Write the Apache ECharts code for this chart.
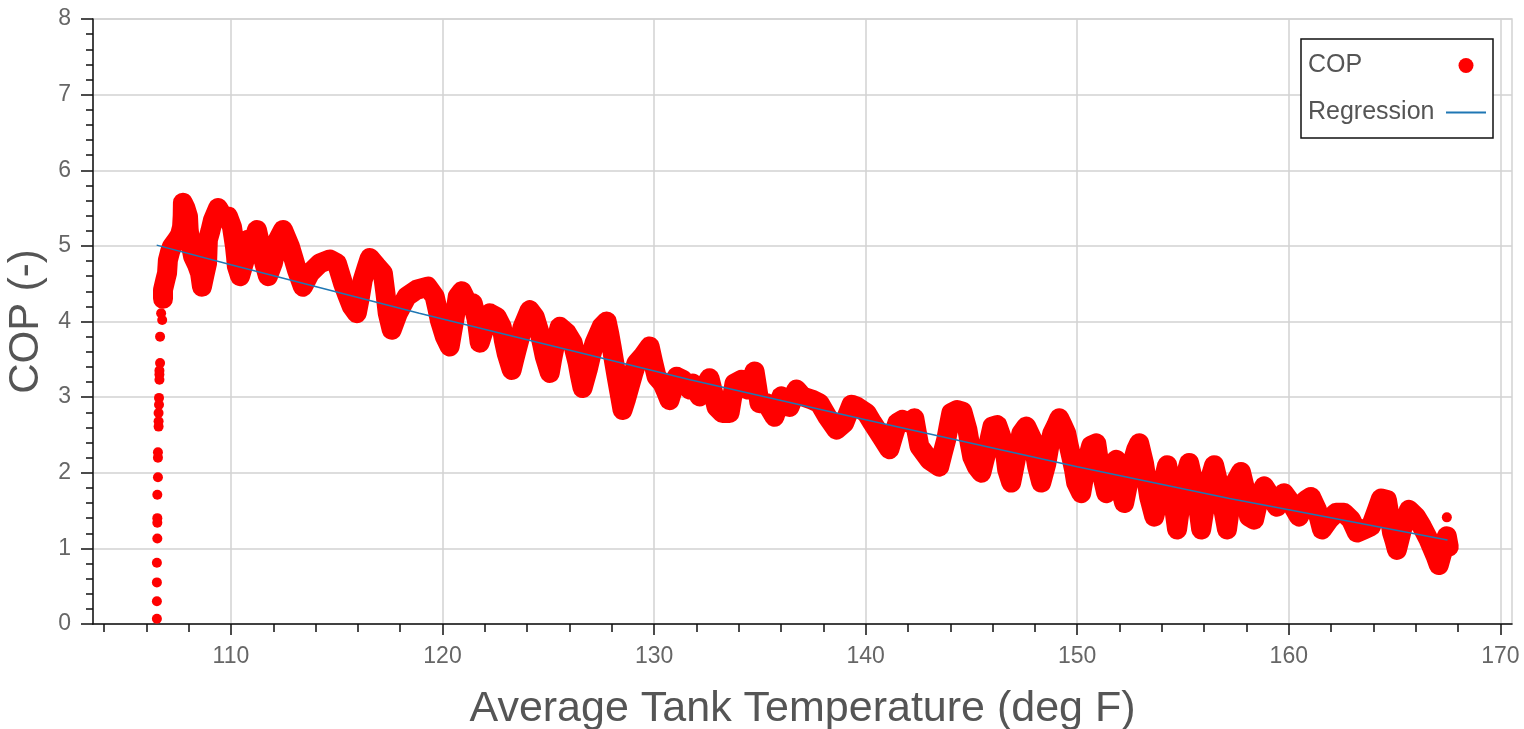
<!DOCTYPE html>
<html>
<head>
<meta charset="utf-8">
<script src="https://cdn.jsdelivr.net/npm/echarts@6.0.0/dist/echarts.min.js"></script>
<style>
html,body{margin:0;padding:0;background:#fff;}
#chart{width:1524px;height:729px;}
</style>
</head>
<body>
<div id="chart"></div>
<script>
// ---- data ----
const tempTicks = [110, 120, 130, 140, 150, 160, 170];
const tempMinorTicks = [104, 106, 108, 112, 114, 116, 118, 122, 124, 126, 128, 132, 134, 136, 138,
  142, 144, 146, 148, 152, 154, 156, 158, 162, 164, 166, 168];
const copTickLabels = ['0', '1', '2', '3', '4', '5', '6', '7', '8'];

// start-up ramp (isolated samples) and a lone late sample
const copRampPoints = [
  [106.50, 0.07], [106.50, 0.30], [106.50, 0.55], [106.50, 0.81], [106.52, 1.13], [106.52, 1.34],
  [106.52, 1.40], [106.52, 1.71], [106.55, 1.94], [106.55, 2.20], [106.55, 2.27], [106.58, 2.61],
  [106.58, 2.68], [106.58, 2.79], [106.60, 2.90], [106.60, 2.99], [106.62, 3.23], [106.62, 3.30],
  [106.62, 3.35], [106.65, 3.45], [106.65, 3.80], [106.70, 4.11], [106.75, 4.02], [167.47, 1.41]
];

// main cloud of COP samples (traced along the dense band)
const copBandPoints = [
  [106.79,4.30],[106.79,4.42],[106.90,4.55],[106.98,4.64],[107.02,4.81],[107.12,4.92],[107.21,4.99],[107.45,5.08],
  [107.60,5.15],[107.69,5.25],[107.72,5.40],[107.73,5.57],[107.85,5.50],[107.97,5.39],[108.00,5.22],[108.06,5.08],
  [108.21,4.86],[108.40,4.75],[108.54,4.64],[108.63,4.46],[108.75,4.62],[108.87,4.77],[108.89,4.92],[108.91,5.08],
  [109.03,5.20],[109.15,5.34],[109.39,5.50],[109.62,5.39],[109.86,5.39],[110.05,5.25],[110.12,5.12],[110.19,4.99],
  [110.24,4.86],[110.28,4.73],[110.43,4.60],[110.66,4.82],[110.73,4.95],[110.80,5.08],[110.99,4.99],[111.23,5.21],
  [111.35,5.06],[111.46,4.91],[111.60,4.75],[111.75,4.60],[111.98,4.77],[112.10,4.92],[112.22,5.08],[112.46,5.21],
  [112.79,4.99],[112.95,4.84],[113.12,4.68],[113.26,4.57],[113.40,4.46],[113.73,4.64],[114.20,4.77],[114.68,4.82],
  [115.01,4.77],[115.15,4.64],[115.29,4.51],[115.50,4.35],[115.71,4.20],[115.95,4.11],[116.10,4.33],[116.23,4.55],
  [116.40,4.70],[116.56,4.84],[116.89,4.73],[117.18,4.64],[117.30,4.38],[117.41,4.11],[117.60,3.89],[117.89,4.11],
  [118.31,4.33],[118.78,4.42],[119.30,4.46],[119.63,4.33],[119.75,4.18],[119.87,4.02],[120.11,3.80],[120.34,3.67],
  [120.46,3.87],[120.58,4.06],[120.65,4.20],[120.72,4.33],[120.91,4.40],[121.19,4.24],[121.43,4.24],[121.62,4.02],
  [121.69,3.87],[121.76,3.72],[122.00,3.93],[122.23,4.11],[122.56,4.06],[122.80,3.93],[122.90,3.75],[123.03,3.58],
  [123.15,3.47],[123.27,3.36],[123.39,3.50],[123.51,3.63],[123.65,3.78],[123.79,3.93],[124.12,4.15],[124.36,4.06],
  [124.59,3.85],[124.71,3.70],[124.83,3.54],[124.95,3.43],[125.07,3.32],[125.18,3.50],[125.30,3.67],[125.42,3.80],
  [125.54,3.93],[125.87,3.85],[126.15,3.72],[126.39,3.45],[126.50,3.28],[126.62,3.12],[126.86,3.36],[127.02,3.55],
  [127.19,3.72],[127.52,3.93],[127.76,4.00],[127.88,3.84],[127.99,3.67],[128.11,3.47],[128.23,3.27],[128.37,3.05],
  [128.51,2.83],[128.68,2.98],[128.84,3.14],[129.00,3.30],[129.17,3.45],[129.46,3.54],[129.79,3.67],[129.95,3.47],
  [130.12,3.27],[130.40,3.18],[130.57,3.07],[130.73,2.96],[130.90,3.12],[131.06,3.27],[131.35,3.23],[131.68,3.10],
  [131.82,3.18],[132.15,3.01],[132.40,3.14],[132.62,3.25],[132.80,3.05],[132.95,2.87],[133.23,2.79],[133.57,2.79],
  [133.68,2.98],[133.80,3.18],[134.13,3.23],[134.42,3.10],[134.60,3.22],[134.75,3.34],[134.87,3.13],[134.98,2.92],
  [135.31,2.92],[135.69,2.74],[135.85,2.88],[136.02,3.01],[136.40,2.87],[136.73,3.10],[137.01,3.01],[137.44,2.97],
  [137.82,2.92],[138.19,2.74],[138.62,2.57],[138.99,2.66],[139.33,2.90],[139.61,2.87],[140.04,2.79],[140.32,2.66],
  [140.74,2.48],[141.12,2.31],[141.30,2.48],[141.50,2.66],[141.74,2.70],[142.07,2.66],[142.30,2.72],[142.42,2.53],
  [142.54,2.35],[143.01,2.17],[143.48,2.08],[143.64,2.26],[143.81,2.44],[143.93,2.62],[144.05,2.79],[144.33,2.83],
  [144.57,2.81],[144.81,2.57],[144.92,2.39],[145.04,2.21],[145.25,2.08],[145.47,2.00],[145.60,2.15],[145.75,2.31],
  [145.87,2.46],[145.99,2.61],[146.22,2.63],[146.46,2.44],[146.60,2.24],[146.69,2.04],[146.88,1.87],[147.00,2.04],
  [147.12,2.21],[147.24,2.36],[147.36,2.52],[147.59,2.61],[147.88,2.44],[148.00,2.26],[148.11,2.08],[148.30,1.87],
  [148.54,2.12],[148.68,2.35],[148.82,2.52],[149.00,2.62],[149.15,2.72],[149.32,2.62],[149.48,2.52],[149.60,2.36],
  [149.72,2.21],[149.85,2.04],[149.95,1.87],[150.19,1.73],[150.31,1.93],[150.43,2.12],[150.66,2.36],[150.90,2.39],
  [151.00,2.20],[151.13,2.04],[151.25,1.88],[151.37,1.73],[151.61,2.00],[151.84,2.17],[151.98,1.87],[152.10,1.73],
  [152.22,1.60],[152.40,1.85],[152.55,2.08],[152.79,2.31],[152.93,2.39],[153.16,2.12],[153.28,1.90],[153.40,1.68],
  [153.64,1.42],[153.80,1.60],[153.97,1.78],[154.11,1.94],[154.25,2.10],[154.37,1.92],[154.49,1.73],[154.60,1.50],
  [154.72,1.25],[154.84,1.50],[154.96,1.78],[155.12,1.96],[155.29,2.13],[155.45,1.93],[155.62,1.73],[155.74,1.50],
  [155.86,1.25],[156.00,1.50],[156.14,1.78],[156.30,1.94],[156.47,2.10],[156.64,1.90],[156.80,1.68],[156.94,1.46],
  [157.08,1.25],[157.20,1.50],[157.32,1.78],[157.52,1.90],[157.74,2.01],[157.98,1.73],[158.05,1.58],[158.12,1.42],
  [158.36,1.38],[158.60,1.68],[158.83,1.82],[159.16,1.68],[159.44,1.55],[159.77,1.73],[160.11,1.60],[160.48,1.42],
  [160.81,1.64],[161.05,1.68],[161.33,1.51],[161.57,1.25],[161.90,1.38],[162.23,1.47],[162.61,1.47],[162.94,1.38],
  [163.22,1.21],[163.55,1.25],[163.88,1.29],[164.17,1.51],[164.36,1.66],[164.64,1.64],[164.76,1.43],[164.88,1.21],
  [165.00,1.10],[165.11,0.98],[165.35,1.25],[165.68,1.51],[166.01,1.42],[166.29,1.29],[166.62,1.11],[166.95,0.89],
  [167.09,0.78],[167.33,1.02],[167.47,1.16],[167.56,1.02]
];

// regression curve read at a few temperatures
const regressionPoints = [
  [106.49, 5.01], [110.0, 4.75], [118.9, 4.11], [124.0, 3.76], [131.7, 3.23],
  [140.0, 2.70], [150.0, 2.08], [157.2, 1.66], [160.0, 1.51], [167.5, 1.11]
];

// ---- chart ----
const FONT = "'Liberation Sans', Arial, Helvetica, sans-serif";
const X_MIN = 103.48, X_MAX = 170.55;
const chart = echarts.init(document.getElementById('chart'), null, {renderer: 'canvas'});
chart.setOption({
  animation: false,
  backgroundColor: '#ffffff',
  textStyle: {fontFamily: FONT},
  grid: {left: 93, top: 19, width: 1419, height: 605, show: true, borderColor: '#d2d2d2', borderWidth: 1.5,
    containLabel: false, outerBoundsMode: 'none'},
  legend: {
    orient: 'vertical', left: 1301, top: 39,
    padding: [14, 6, 13, 7], itemGap: 22,
    align: 'right', itemWidth: 40, itemHeight: 15,
    backgroundColor: '#ffffff', borderColor: '#111', borderWidth: 1.5, borderRadius: 0,
    formatter: name => '{t|' + name + '}',
    textStyle: {fontFamily: FONT, fontSize: 25, color: '#555',
      rich: {t: {fontFamily: FONT, fontSize: 25, color: '#555', width: 133, align: 'left'}}},
    data: [{name: 'COP', icon: 'circle'}, {name: 'Regression', itemStyle: {opacity: 0}}]
  },
  xAxis: [{
    type: 'value', min: X_MIN, max: X_MAX,
    name: 'Average Tank Temperature (deg F)', nameLocation: 'middle', nameGap: 64,
    nameTextStyle: {fontFamily: FONT, fontSize: 43, color: '#555'},
    axisLine: {show: true, onZero: false, lineStyle: {color: '#111', width: 1.5}},
    axisTick: {show: true, customValues: tempTicks, length: 11, lineStyle: {color: '#111', width: 1.5}},
    axisLabel: {show: true, customValues: tempTicks, margin: 21, fontFamily: FONT, fontSize: 23, color: '#666'},
    splitLine: {show: true, lineStyle: {color: '#d2d2d2', width: 1.5}}
  }, {
    type: 'value', min: X_MIN, max: X_MAX, position: 'bottom',
    axisLine: {show: false},
    axisTick: {show: true, customValues: tempMinorTicks, length: 8, lineStyle: {color: '#111', width: 1.5}},
    axisLabel: {show: false},
    splitLine: {show: false}
  }],
  yAxis: {
    type: 'value', min: 0, max: 8, interval: 1,
    name: 'COP (-)', nameLocation: 'middle', nameGap: 34,
    nameTextStyle: {fontFamily: FONT, fontSize: 42, color: '#555'},
    axisLine: {show: true, onZero: false, lineStyle: {color: '#111', width: 1.5}},
    axisTick: {show: true, length: 12, lineStyle: {color: '#111', width: 1.5}},
    minorTick: {show: true, splitNumber: 5, length: 7, lineStyle: {color: '#111', width: 1.5}},
    axisLabel: {margin: 22, fontFamily: FONT, fontSize: 23, color: '#666',
      formatter: v => copTickLabels[Math.round(v)]},
    splitLine: {show: true, lineStyle: {color: '#d2d2d2', width: 1.5}}
  },
  series: [{
    // dense cloud of COP samples: drawn as a continuous thick trace through the read points
    name: 'COP', type: 'line', xAxisIndex: 0, data: copBandPoints,
    symbol: 'circle', showSymbol: false, smooth: false,
    lineStyle: {color: '#ff0000', width: 20, cap: 'round', join: 'round'},
    itemStyle: {color: '#ff0000'}, z: 2
  }, {
    name: 'COP', type: 'scatter', xAxisIndex: 0, data: copRampPoints,
    symbol: 'circle', symbolSize: 10, itemStyle: {color: '#ff0000', opacity: 1}, z: 2
  }, {
    name: 'Regression', type: 'line', xAxisIndex: 0, data: regressionPoints,
    symbol: 'none', smooth: false, lineStyle: {color: '#1f77b4', width: 1.5},
    itemStyle: {color: '#1f77b4'}, z: 3
  }]
});
</script>
</body>
</html>
